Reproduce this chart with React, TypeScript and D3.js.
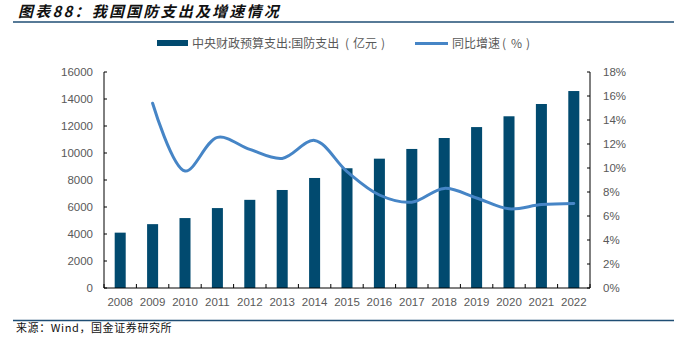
import React from "react";
import * as d3 from "d3";

const years = ["2008","2009","2010","2011","2012","2013","2014","2015","2016","2017","2018","2019","2020","2021","2022"];
const spending = [4100, 4730, 5180, 5920, 6530, 7260, 8150, 8870, 9580, 10300, 11110, 11920, 12720, 13630, 14590];
const growthYears = ["2009","2010","2011","2012","2013","2014","2015","2016","2017","2018","2019","2020","2021","2022"];
const growth = [15.4, 9.75, 12.55, 11.55, 10.8, 12.3, 9.7, 7.75, 7.15, 8.3, 7.5, 6.6, 6.95, 7.05];
const leftTicks = [0, 2000, 4000, 6000, 8000, 10000, 12000, 14000, 16000];
const rightTicks = [0, 2, 4, 6, 8, 10, 12, 14, 16, 18];

const W = 691, H = 338;
const L = 104, R = 590, T = 72, B = 288;
const BAR = "#014a6f";
const LINE = "#4685c6";
const GRAY = "#595959";
const NUM_FONT = "'Liberation Sans', Arial, sans-serif";
const CJK_FONT = "'Noto Sans CJK SC', 'Liberation Sans', sans-serif";

export default function App() {
  const x = d3.scaleBand<string>().domain(years).range([L, R]).padding(0);
  const yL = d3.scaleLinear().domain([0, 16000]).range([B, T]);
  const yR = d3.scaleLinear().domain([0, 18]).range([B, T]);
  const bw = x.bandwidth() * 0.34;
  const line = d3
    .line<number>()
    .x((_, i) => (x(growthYears[i]) as number) + x.bandwidth() / 2)
    .y((d) => yR(d))
    .curve(d3.curveCatmullRom.alpha(0.5));

  const boundaries = years.map((y) => x(y) as number).concat([R]);

  return (
    <svg width={W} height={H} style={{ position: "absolute", left: 0, top: 0, background: "#fff" }}>
      <text x={18} y={17} fontFamily={CJK_FONT} fontSize={15} fontWeight="bold" fontStyle="italic" letterSpacing={2.2} fill="#111">
        图表88：我国国防支出及增速情况
      </text>
      <line x1={13} x2={674} y1={22} y2={22} stroke="#1f4e74" strokeWidth={1.5} />

      <rect x={157} y={40} width={31} height={6} fill={BAR} />
      <text x={192} y={48} fontFamily={CJK_FONT} fontSize={12} fill={GRAY}>
        <tspan>中央财政预算支出:国防支出</tspan>
        <tspan x={345}>(</tspan>
        <tspan x={353}>亿元</tspan>
        <tspan x={381}>)</tspan>
      </text>
      <line x1={415} x2={448} y1={43.5} y2={43.5} stroke={LINE} strokeWidth={3} />
      <text x={452} y={48} fontFamily={CJK_FONT} fontSize={12} fill={GRAY}>
        <tspan>同比增速</tspan>
        <tspan x={502}>(</tspan>
        <tspan x={511}>%</tspan>
        <tspan x={526}>)</tspan>
      </text>

      {years.map((yr, i) => (
        <rect key={yr} x={(x(yr) as number) + (x.bandwidth() - bw) / 2} y={yL(spending[i])} width={bw} height={B - yL(spending[i])} fill={BAR} />
      ))}

      <path d={line(growth) || ""} fill="none" stroke={LINE} strokeWidth={3} strokeLinecap="round" />

      <line x1={L} x2={L} y1={T} y2={B} stroke="#000" strokeWidth={1} />
      <line x1={R} x2={R} y1={T} y2={B} stroke="#000" strokeWidth={1} />
      <line x1={L} x2={R} y1={B} y2={B} stroke="#000" strokeWidth={1} />

      {leftTicks.map((t) => (
        <g key={"l" + t}>
          <line x1={L} x2={L + 3} y1={yL(t)} y2={yL(t)} stroke="#000" />
          <text x={93} y={yL(t) + 4} textAnchor="end" fontFamily={NUM_FONT} fontSize={11.5} fill={GRAY}>{t}</text>
        </g>
      ))}
      {rightTicks.map((t) => (
        <g key={"r" + t}>
          <line x1={R - 3} x2={R} y1={yR(t)} y2={yR(t)} stroke="#000" />
          <text x={603} y={yR(t) + 4} fontFamily={NUM_FONT} fontSize={11.5} fill={GRAY}>{t}%</text>
        </g>
      ))}
      {boundaries.map((bx, i) => (
        <line key={"b" + i} x1={bx} x2={bx} y1={B} y2={B - 4} stroke="#000" />
      ))}
      {years.map((yr) => (
        <text key={"t" + yr} x={(x(yr) as number) + x.bandwidth() / 2} y={306} textAnchor="middle" fontFamily={NUM_FONT} fontSize={11.5} fill={GRAY}>{yr}</text>
      ))}

      <line x1={13} x2={674} y1={320.5} y2={320.5} stroke="#1f4e74" strokeWidth={1.5} />
      <text x={16} y={332} fontFamily={CJK_FONT} fontSize={11} fill="#111" letterSpacing={0.6}>来源：Wind，国金证券研究所</text>
    </svg>
  );
}
